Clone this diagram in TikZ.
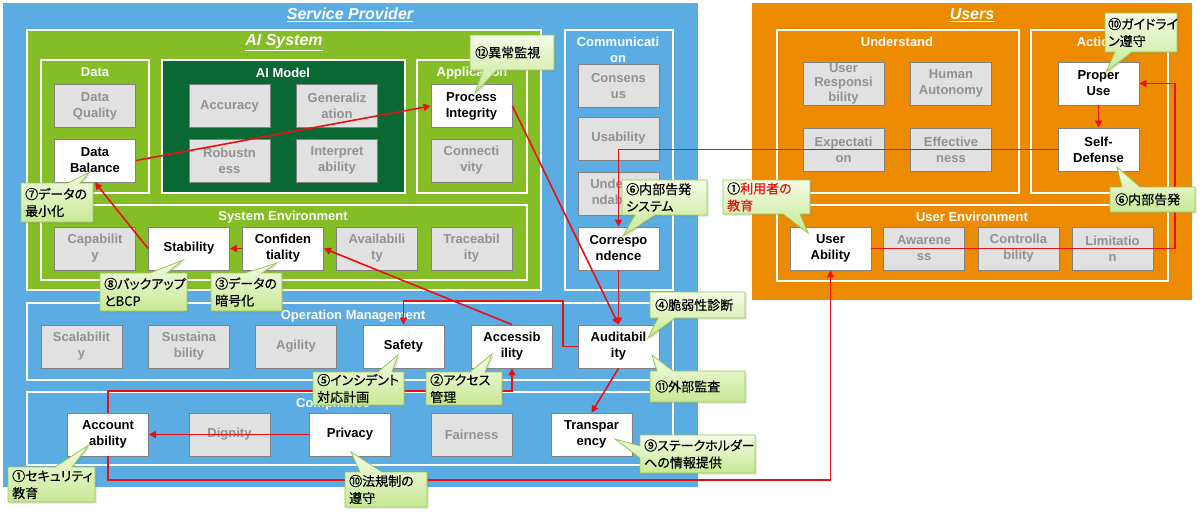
\documentclass[tikz,border=0pt]{standalone}
\usepackage{fontspec}
\setmainfont{Liberation Sans}
\newfontfamily\jp[RawFeature=+palt, FakeBold=0.5]{Noto Sans CJK JP}
\usetikzlibrary{arrows.meta,shadows}
\definecolor{spblue}{RGB}{91,172,226}
\definecolor{aigreen}{RGB}{132,189,38}
\definecolor{dkgreen}{RGB}{10,104,52}
\definecolor{usorange}{RGB}{236,138,0}
\definecolor{gfill}{RGB}{225,225,225}
\definecolor{gtext}{RGB}{145,145,145}
\definecolor{bord}{RGB}{130,130,130}
\definecolor{lred}{RGB}{232,16,16}
\definecolor{cotop}{RGB}{244,251,230}
\definecolor{cobot}{RGB}{200,232,148}
\definecolor{coline}{RGB}{150,200,80}
\tikzset{
 panel/.style={draw=white, line width=2pt},
 ttl/.style={text=white, font=\fontsize{13}{16}\selectfont\bfseries, align=center, inner sep=0pt},
 bigttl/.style={text=white, font=\fontsize{16}{18}\selectfont\bfseries\itshape, inner sep=0pt},
 gbox/.style={draw=bord, line width=0.8pt, fill=gfill, text=gtext, minimum width=81pt, minimum height=43pt, inner sep=0pt, align=center, font=\fontsize{13}{16}\selectfont\bfseries},
 wbox/.style={gbox, fill=white, text=black},
 link/.style={draw=lred, line width=1.6pt, -{Triangle[length=7pt,width=7pt]}},
 co/.style={draw=coline, line width=0.8pt, top color=cotop, bottom color=cobot, drop shadow={opacity=0.25, shadow xshift=1.5pt, shadow yshift=-1.5pt}},
 cotext/.style={font=\jp\fontsize{13}{17}\selectfont, align=left, anchor=west, inner sep=0pt},
}
\begin{document}
\begin{tikzpicture}[x=1pt,y=-1pt]
\useasboundingbox (0,0) rectangle (1200,522);
\fill[white] (0,0) rectangle (1200,522);
% ---------- containers ----------
\fill[spblue] (3,3) rectangle (698,487);
\path[panel, fill=aigreen] (27,30) rectangle (541,290);
\path[panel, fill=aigreen] (41,60) rectangle (149,193);
\path[panel, fill=dkgreen] (162,60) rectangle (405,193);
\path[panel, fill=aigreen] (417,60) rectangle (527,193);
\path[panel, fill=aigreen] (41,205) rectangle (527,280);
\path[panel, fill=spblue] (565,30) rectangle (673,290);
\path[panel, fill=spblue] (27,303) rectangle (673,380);
\path[panel, fill=spblue] (27,392) rectangle (673,465);
\fill[usorange] (752,3) rectangle (1192,300);
\path[panel, fill=usorange] (777,30) rectangle (1019,193);
\path[panel, fill=usorange] (1031,30) rectangle (1168,193);
\path[panel, fill=usorange] (777,205) rectangle (1168,281);
% ---------- titles ----------
\node[bigttl] (tSP) at (350,15) {\underline{Service Provider}};
\node[bigttl] (tAI) at (284,43) {\underline{AI System}};
\node[bigttl] (tUS) at (972,15) {\underline{Users}};
\node[ttl] (tData) at (95,72) {Data};
\node[ttl] (tModel) at (283,73) {AI Model};
\node[ttl] (tApp) at (472,73) {Application};
\node[ttl] (tCom) at (618,50) {Communicati\\on};
\node[ttl] (tSys) at (283,217) {System Environment};
\node[ttl] (tOp) at (353,316) {Operation Management};
\node[ttl] (tComp) at (333,404) {Compliance};
\node[ttl] (tUnd) at (897,42) {Understand};
\node[ttl] (tAct) at (1097,42) {Action};
\node[ttl] (tUE) at (972,217) {User Environment};
% ---------- boxes ----------
\node[gbox] (DQ) at (95,106) {Data\\Quality};
\node[wbox] (DB) at (95,160.5) {Data\\Balance};
\node[gbox] (Acc) at (229.5,106) {Accuracy};
\node[gbox] (Rob) at (229.5,160.5) {Robustn\\ess};
\node[gbox] (Gen) at (337,106) {Generaliz\\ation};
\node[gbox] (Int) at (337,160.5) {Interpret\\ability};
\node[wbox] (PI) at (471.5,106) {Process\\Integrity};
\node[gbox] (Conn) at (471.5,160.5) {Connecti\\vity};
\node[gbox] (Cons) at (618.5,86) {Consens\\us};
\node[gbox] (Usab) at (618.5,138.5) {Usability};
\node[gbox] (Und) at (618.5,193.5) {Understa\\ndability};
\node[wbox] (Corr) at (618.5,248.5) {Correspo\\ndence};
\node[gbox] (Cap) at (95,248.5) {Capabilit\\y};
\node[wbox] (Stab) at (189,248.5) {Stability};
\node[wbox] (Conf) at (283,248.5) {Confiden\\tiality};
\node[gbox] (Avail) at (377,248.5) {Availabili\\ty};
\node[gbox] (Trace) at (471.5,248.5) {Traceabil\\ity};
\node[gbox] (Scal) at (81.5,346.5) {Scalabilit\\y};
\node[gbox] (Sust) at (189,346.5) {Sustaina\\bility};
\node[gbox] (Agil) at (296,346.5) {Agility};
\node[wbox] (Saf) at (403.5,346.5) {Safety};
\node[wbox] (Accs) at (512,346.5) {Accessib\\ility};
\node[wbox] (Aud) at (618.5,346.5) {Auditabil\\ity};
\node[wbox] (Acct) at (108,434.5) {Account\\ability};
\node[gbox] (Dig) at (229.5,434.5) {Dignity};
\node[wbox] (Priv) at (350,434.5) {Privacy};
\node[gbox] (Fair) at (471.5,434.5) {Fairness};
\node[wbox] (Trans) at (591.5,434.5) {Transpar\\ency};
\node[gbox, font=\fontsize{13}{14.5}\selectfont\bfseries] (UR) at (843.5,83.5) {User\\Responsi\\bility};
\node[gbox] (HA) at (951,83.5) {Human\\Autonomy};
\node[gbox] (Exp) at (843.5,149.5) {Expectati\\on};
\node[gbox] (Eff) at (951,149.5) {Effective\\ness};
\node[wbox] (PU) at (1098.5,83.5) {Proper\\Use};
\node[wbox] (SD) at (1098.5,149.5) {Self-\\Defense};
\node[wbox] (UA) at (830.5,248.5) {User\\Ability};
\node[gbox] (Aw) at (924,248.5) {Awarene\\ss};
\node[gbox] (Ctrl) at (1018.5,248.5) {Controlla\\bility};
\node[gbox] (Lim) at (1112.5,248.5) {Limitatio\\n};
% ---------- connectors ----------
\coordinate (kR) at (1175,248.5);
\coordinate (kA1) at (563,346.5);
\coordinate (kA2) at (563,301);
\coordinate (kA3) at (403.5,301);
\coordinate (kT) at (108,391);
\coordinate (kB) at (108,480);
\draw[link] (DB.east) -- (PI.west);
\draw[link] (Stab.west) -- (DB.south);
\draw[link] (Conf.west) -- (Stab.east);
\draw[link] (Accs.north) -- (Conf.east);
\draw[link] (PI.east) -- (Aud.north);
\draw[link] (Corr.south) -- (Aud.north);
\draw[link] (SD.west) -| (Corr.north);
\draw[link] (PU.south) -- (SD.north);
\draw[link] (UA.east) -- (kR) |- (PU.east);
\draw[link] (Aud.west) -- (kA1) -- (kA2) -- (kA3) -- (Saf.north);
\draw[link] (Priv.west) -- (Acct.east);
\draw[link] (Acct.north) -- (kT) -| (Accs.south);
\draw[link] (Acct.south) -- (kB) -| (UA.south);
\draw[link] (Aud.south) -- (Trans.north);
% ---------- callouts ----------
\path[co] (470,35) -- (554,35) -- (554,70) -- (497,70) -- (475,93) -- (483,70) -- (470,70) -- cycle;
\node[cotext] (n12) at (475,52.5) {⑫異常監視};
\path[co] (21,183) -- (68,183) -- (90,172) -- (80,183) -- (93,183) -- (93,222) -- (21,222) -- cycle;
\node[cotext] (n7) at (25,202.5) {⑦データの\\最小化};
\path[co] (100,273) -- (150,273) -- (183,260) -- (167,273) -- (187,273) -- (187,311) -- (100,311) -- cycle;
\node[cotext] (n8) at (104,292) {⑧バックアップ\\とBCP};
\path[co] (211,273) -- (245,273) -- (277,263) -- (262,273) -- (282,273) -- (282,311) -- (211,311) -- cycle;
\node[cotext] (n3) at (215,292) {③データの\\暗号化};
\path[co] (622,180) -- (707,180) -- (707,215) -- (655,215) -- (623,236) -- (635,215) -- (622,215) -- cycle;
\node[cotext] (n6a) at (626,197.5) {⑥内部告発\\システム};
\path[co] (723,180) -- (810,180) -- (810,214) -- (800,214) -- (808,233) -- (783,214) -- (723,214) -- cycle;
\node[cotext] (n1u) at (727,197) {①{\color{lred}利用者の}\\{\color{lred}教育}};
\path[co] (1105,13) -- (1177,13) -- (1177,52) -- (1132,52) -- (1106,72) -- (1115,52) -- (1105,52) -- cycle;
\node[cotext] (n10g) at (1108,32.5) {⑩ガイドライ\\ン遵守};
\path[co] (1110,187) -- (1122,187) -- (1117,167) -- (1140,187) -- (1195,187) -- (1195,212) -- (1110,212) -- cycle;
\node[cotext] (n6b) at (1115,199.5) {⑥内部告発};
\path[co] (650,292) -- (745,292) -- (745,318) -- (675,318) -- (648,338) -- (658,318) -- (650,318) -- cycle;
\node[cotext] (n4) at (655,305) {④脆弱性診断};
\path[co] (650,371) -- (657,371) -- (652,355) -- (673,371) -- (745,371) -- (745,402) -- (650,402) -- cycle;
\node[cotext] (n11) at (655,386.5) {⑪外部監査};
\path[co] (640,435) -- (755,435) -- (755,473) -- (640,473) -- (640,458) -- (615,439) -- (640,446) -- cycle;
\node[cotext] (n9) at (644,454) {⑨ステークホルダー\\への情報提供};
\path[co] (345,472) -- (360,472) -- (351,452) -- (382,472) -- (427,472) -- (427,507) -- (345,507) -- cycle;
\node[cotext] (n10l) at (349,489.5) {⑩法規制の\\遵守};
\path[co] (313,372) -- (378,372) -- (398,355) -- (392,372) -- (404,372) -- (404,405) -- (313,405) -- cycle;
\node[cotext] (n5) at (317,388.5) {⑤インシデント\\対応計画};
\path[co] (426,372) -- (470,372) -- (492,354) -- (485,372) -- (502,372) -- (502,405) -- (426,405) -- cycle;
\node[cotext] (n2) at (430,388.5) {②アクセス\\管理};
\path[co] (8,467) -- (55,467) -- (89,445) -- (72,467) -- (95,467) -- (95,502) -- (8,502) -- cycle;
\node[cotext] (n1s) at (12,484.5) {①セキュリティ\\教育};
\end{tikzpicture}
\end{document}
